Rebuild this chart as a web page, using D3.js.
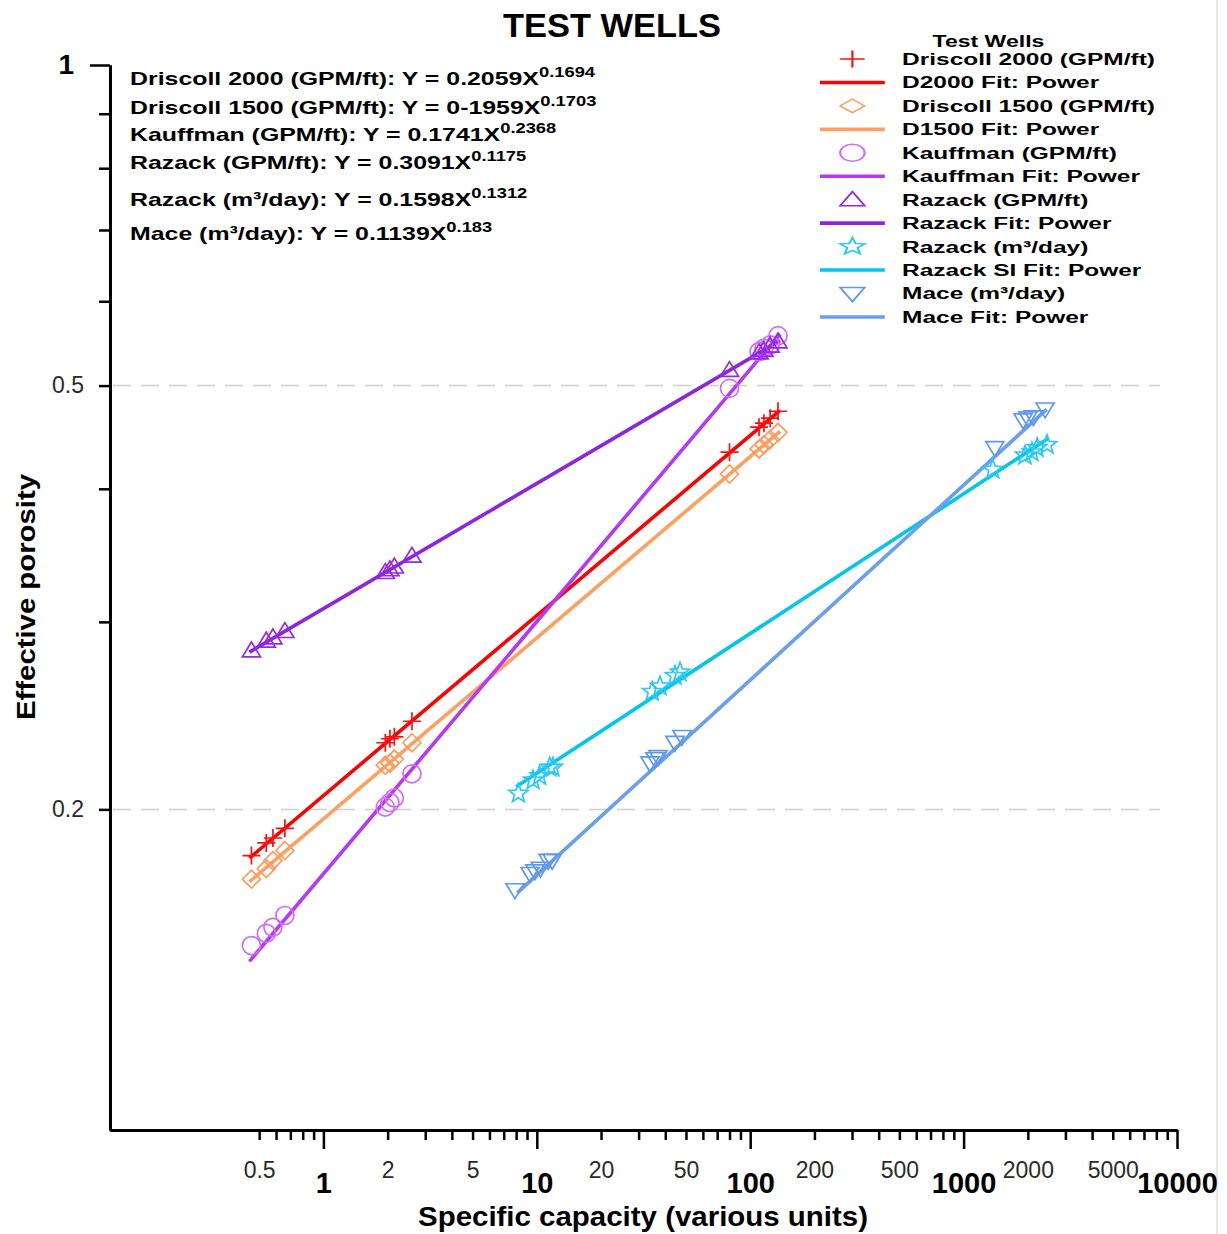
<!DOCTYPE html>
<html lang="en">
<head>
    <meta charset="UTF-8">
    <title>Test Wells</title>
    <script src="https://d3js.org/d3.v7.min.js"></script>
    <style>
        body { margin: 0; background: #fff; }
        text { font-family: "Liberation Sans", Arial, sans-serif; }
    </style>
</head>
<body>
<svg id="chart" width="1227" height="1234"></svg>

<script>
// specific capacity values (GPM/ft series share the same wells)
const gpmX = [0.46, 0.54, 0.58, 0.66, 1.95, 2.05, 2.15, 2.6, 80, 110, 116, 124, 135];
const d2000Y = [0.181, 0.186, 0.188, 0.192, 0.231, 0.233, 0.234, 0.242, 0.433, 0.457, 0.461, 0.466, 0.473];
const d1500Y = [0.172, 0.176, 0.179, 0.183, 0.220, 0.221, 0.223, 0.231, 0.413, 0.436, 0.440, 0.445, 0.452];
const kauffY = [0.149, 0.153, 0.155, 0.159, 0.201, 0.203, 0.205, 0.216, 0.497, 0.538, 0.542, 0.546, 0.557];
const razGpmY = [0.282, 0.288, 0.290, 0.294, 0.334, 0.336, 0.338, 0.346, 0.517, 0.537, 0.540, 0.545, 0.550];

const razSiX = [8.2, 9.6, 10.3, 11.5, 11.9, 34.7, 37.8, 44.4, 46.9, 1370, 1940, 2090, 2210, 2460];
const razSiY = [0.207, 0.213, 0.215, 0.219, 0.219, 0.258, 0.261, 0.267, 0.269, 0.417, 0.430, 0.433, 0.437, 0.440];
const maceX = [7.9, 9.3, 9.8, 10.4, 11.3, 11.8, 33.9, 35.8, 37.0, 44.4, 47.9, 1400, 1900, 2000, 2120, 2410];
const maceY = [0.168, 0.174, 0.175, 0.176, 0.179, 0.179, 0.221, 0.223, 0.224, 0.231, 0.234, 0.437, 0.464, 0.466, 0.467, 0.475];

// power fit end points [x, y]
const fitD2000 = [[0.45, 0.180], [138, 0.474]];
const fitD1500 = [[0.45, 0.171], [138, 0.453]];
const fitKauff = [[0.45, 0.144], [138, 0.559]];
const fitRazGpm = [[0.45, 0.281], [138, 0.551]];
const fitRazSi = [[8.0, 0.210], [2490, 0.446]];
const fitMace = [[8.1, 0.167], [2450, 0.475]];

// fit equations printed on the chart
const equations = [
    ["Driscoll 2000 (GPM/ft): Y = 0.2059X", "0.1694"],
    ["Driscoll 1500 (GPM/ft): Y = 0-1959X", "0.1703"],
    ["Kauffman (GPM/ft): Y = 0.1741X", "0.2368"],
    ["Razack (GPM/ft): Y = 0.3091X", "0.1175"],
    ["Razack (m\u00b3/day): Y = 0.1598X", "0.1312"],
    ["Mace (m\u00b3/day): Y = 0.1139X", "0.183"]
];

// axis ticks
const xMajor = [1, 10, 100, 1000, 10000];
const xMinor = [0.5, 0.6, 0.7, 0.8, 0.9, 2, 3, 4, 5, 6, 7, 8, 9, 20, 30, 40, 50, 60, 70, 80, 90,
    200, 300, 400, 500, 600, 700, 800, 900, 2000, 3000, 4000, 5000, 6000, 7000, 8000, 9000];
const xMinorLabels = [0.5, 2, 5, 20, 50, 200, 500, 2000, 5000];
const yMinor = [0.9, 0.8, 0.7, 0.6, 0.5, 0.4, 0.3, 0.2];
const yLabels = [0.5, 0.2];
const yGrid = [0.5, 0.2];

const series = [
    {name: "Driscoll 2000 (GPM/ft)", fitName: "D2000 Fit: Power", x: gpmX, y: d2000Y, fit: fitD2000,
        marker: "plus", color: "#ff1010", line: "#ff0000"},
    {name: "Driscoll 1500 (GPM/ft)", fitName: "D1500 Fit: Power", x: gpmX, y: d1500Y, fit: fitD1500,
        marker: "diamond", color: "#ff9a5c", line: "#ffa060"},
    {name: "Kauffman (GPM/ft)", fitName: "Kauffman Fit: Power", x: gpmX, y: kauffY, fit: fitKauff,
        marker: "circle", color: "#d06cff", line: "#b638f4"},
    {name: "Razack (GPM/ft)", fitName: "Razack Fit: Power", x: gpmX, y: razGpmY, fit: fitRazGpm,
        marker: "triUp", color: "#9428e6", line: "#8a25e0"},
    {name: "Razack (m\u00b3/day)", fitName: "Razack SI Fit: Power", x: razSiX, y: razSiY, fit: fitRazSi,
        marker: "star", color: "#2cc8f8", line: "#00c6ee"},
    {name: "Mace (m\u00b3/day)", fitName: "Mace Fit: Power", x: maceX, y: maceY, fit: fitMace,
        marker: "triDown", color: "#5e98ee", line: "#6a9ff0"}
];

const markers = {
    plus: (p, r) => { p.moveTo(-r, 0); p.lineTo(r, 0); p.moveTo(0, -r); p.lineTo(0, r); },
    diamond: (p, r) => { p.moveTo(0, -r); p.lineTo(r, 0); p.lineTo(0, r); p.lineTo(-r, 0); p.closePath(); },
    circle: (p, r) => { p.moveTo(r, 0); p.arc(0, 0, r, 0, 2 * Math.PI); },
    triUp: (p, r) => { p.moveTo(0, -r * 0.95); p.lineTo(r, r * 0.7); p.lineTo(-r, r * 0.7); p.closePath(); },
    triDown: (p, r) => { p.moveTo(0, r * 0.95); p.lineTo(r, -r * 0.7); p.lineTo(-r, -r * 0.7); p.closePath(); },
    star: (p, r) => {
        for (let i = 0; i < 10; i++) {
            const a = -Math.PI / 2 + i * Math.PI / 5, rr = i % 2 ? r * 0.42 : r;
            i ? p.lineTo(rr * Math.cos(a), rr * Math.sin(a)) : p.moveTo(rr * Math.cos(a), rr * Math.sin(a));
        }
        p.closePath();
    }
};
function markerPath(kind, r) {
    const p = d3.path();
    markers[kind](p, r);
    return p.toString();
}

const svg = d3.select("#chart");
const x = d3.scaleLog().domain([0.1, 10000]).range([110, 1177]);
const y = d3.scaleLog().domain([0.1, 1]).range([1130, 65]);

// faint frame line on the right
svg.append("line").attr("x1", 1217).attr("x2", 1217).attr("y1", 0).attr("y2", 1234)
    .attr("stroke", "#e4dcdc").attr("stroke-width", 1.5);

// title
svg.append("text").attr("x", 612).attr("y", 37).attr("text-anchor", "middle")
    .attr("font-size", 33).attr("font-weight", "bold").attr("textLength", 218)
    .attr("lengthAdjust", "spacingAndGlyphs").text("TEST WELLS");

// dashed grid
svg.append("g").selectAll("line").data(yGrid).join("line")
    .attr("x1", x(0.1) + 3).attr("x2", 1160)
    .attr("y1", d => y(d)).attr("y2", d => y(d))
    .attr("stroke", "#cfcfcf").attr("stroke-width", 1.5).attr("stroke-dasharray", "18,10");

// x axis
const gx = svg.append("g").attr("transform", `translate(0,${y(0.1)})`);
gx.append("g").call(d3.axisBottom(x).tickValues(xMinor).tickSize(10).tickSizeOuter(0)
        .tickFormat(d => xMinorLabels.includes(d) ? d3.format("")(d) : ""))
    .call(g => g.selectAll("text").attr("font-size", 23).attr("fill", "#2a2a2a").attr("dy", "1.5em")
        .attr("font-family", "'Liberation Sans', Arial, sans-serif"));
gx.append("g").call(d3.axisBottom(x).tickValues(xMajor).tickSize(19).tickSizeOuter(0)
        .tickFormat(d3.format("")))
    .call(g => g.selectAll("text").attr("font-size", 29).attr("font-weight", "bold").attr("fill", "#000")
        .attr("y", 42).attr("dy", "0.71em").attr("font-family", "'Liberation Sans', Arial, sans-serif"));
gx.selectAll(".domain").attr("stroke-width", 3).attr("stroke", "#000");
gx.selectAll(".tick line").attr("stroke-width", 2.5).attr("stroke", "#000");

// y axis
const gy = svg.append("g").attr("transform", `translate(${x(0.1)},0)`);
gy.append("g").call(d3.axisLeft(y).tickValues(yMinor).tickSize(11).tickSizeOuter(0)
        .tickFormat(d => yLabels.includes(d) ? d3.format("")(d) : ""))
    .call(g => g.selectAll("text").attr("font-size", 23).attr("fill", "#2a2a2a").attr("x", -26)
        .attr("font-family", "'Liberation Sans', Arial, sans-serif"));
gy.append("g").call(d3.axisLeft(y).tickValues([1]).tickSize(20).tickSizeOuter(0).tickFormat(d3.format("")))
    .call(g => g.selectAll("text").attr("font-size", 28).attr("font-weight", "bold").attr("fill", "#000")
        .attr("x", -36).attr("font-family", "'Liberation Sans', Arial, sans-serif"));
gy.selectAll(".domain").attr("stroke-width", 3).attr("stroke", "#000");
gy.selectAll(".tick line").attr("stroke-width", 2.5).attr("stroke", "#000");

// axis titles
svg.append("text").attr("x", 643).attr("y", 1226).attr("text-anchor", "middle")
    .attr("font-size", 27).attr("font-weight", "bold").attr("textLength", 450)
    .attr("lengthAdjust", "spacingAndGlyphs").text("Specific capacity (various units)");
svg.append("text").attr("transform", "translate(35,597) rotate(-90)").attr("text-anchor", "middle")
    .attr("font-size", 26).attr("font-weight", "bold").attr("textLength", 246)
    .attr("lengthAdjust", "spacingAndGlyphs").text("Effective porosity");

// fit lines
const lineGen = d3.line().x(d => x(d[0])).y(d => y(d[1]));
svg.append("g").selectAll("path").data(series).join("path")
    .attr("d", d => lineGen(d.fit))
    .attr("fill", "none").attr("stroke", d => d.line).attr("stroke-width", 3.6);

// markers
series.forEach(s => {
    const pts = s.x.map((v, i) => [v, s.y[i]]);
    svg.append("g").selectAll("path").data(pts).join("path")
        .attr("transform", d => `translate(${x(d[0])},${y(d[1])})`)
        .attr("d", markerPath(s.marker, s.marker === "star" ? 10 : 9))
        .attr("fill", "none").attr("stroke", s.color).attr("stroke-width", 1.7);
});

// equations
const eq = svg.append("g").attr("transform", "translate(130,0) scale(1.31,1)");
const eqY = [85, 114, 141, 169, 206, 240];
equations.forEach((e, i) => {
    const t = eq.append("text").attr("x", 0).attr("y", eqY[i])
        .attr("font-size", 19).attr("font-weight", "bold");
    t.append("tspan").text(e[0]);
    t.append("tspan").attr("dy", -8).attr("font-size", 14).text(e[1]);
});

// legend
const lg = svg.append("g").attr("transform", "translate(820,0) scale(1.44,1)");
lg.append("text").attr("x", 117).attr("y", 47).attr("text-anchor", "middle")
    .attr("font-size", 16).attr("font-weight", "bold").text("Test Wells");
const rows = series.flatMap(s => [{label: s.name, s: s, kind: "marker"}, {label: s.fitName, s: s, kind: "line"}]);
rows.forEach((r, i) => {
    const cy = 59 + i * 23.45;
    if (r.kind === "line") {
        lg.append("line").attr("x1", 0).attr("x2", 45).attr("y1", cy).attr("y2", cy)
            .attr("stroke", r.s.line).attr("stroke-width", 3.6);
    } else {
        lg.append("path").attr("transform", `translate(22.5,${cy}) scale(1,${r.s.marker === "diamond" ? 0.8 : 1})`)
            .attr("d", markerPath(r.s.marker, r.s.marker === "star" ? 9 : 8.5))
            .attr("fill", "none").attr("stroke", r.s.color).attr("stroke-width", 1.5);
    }
    lg.append("text").attr("x", 57).attr("y", cy + 6).attr("font-size", 17).attr("font-weight", "bold")
        .text(r.label);
});
</script>
</body>
</html>
